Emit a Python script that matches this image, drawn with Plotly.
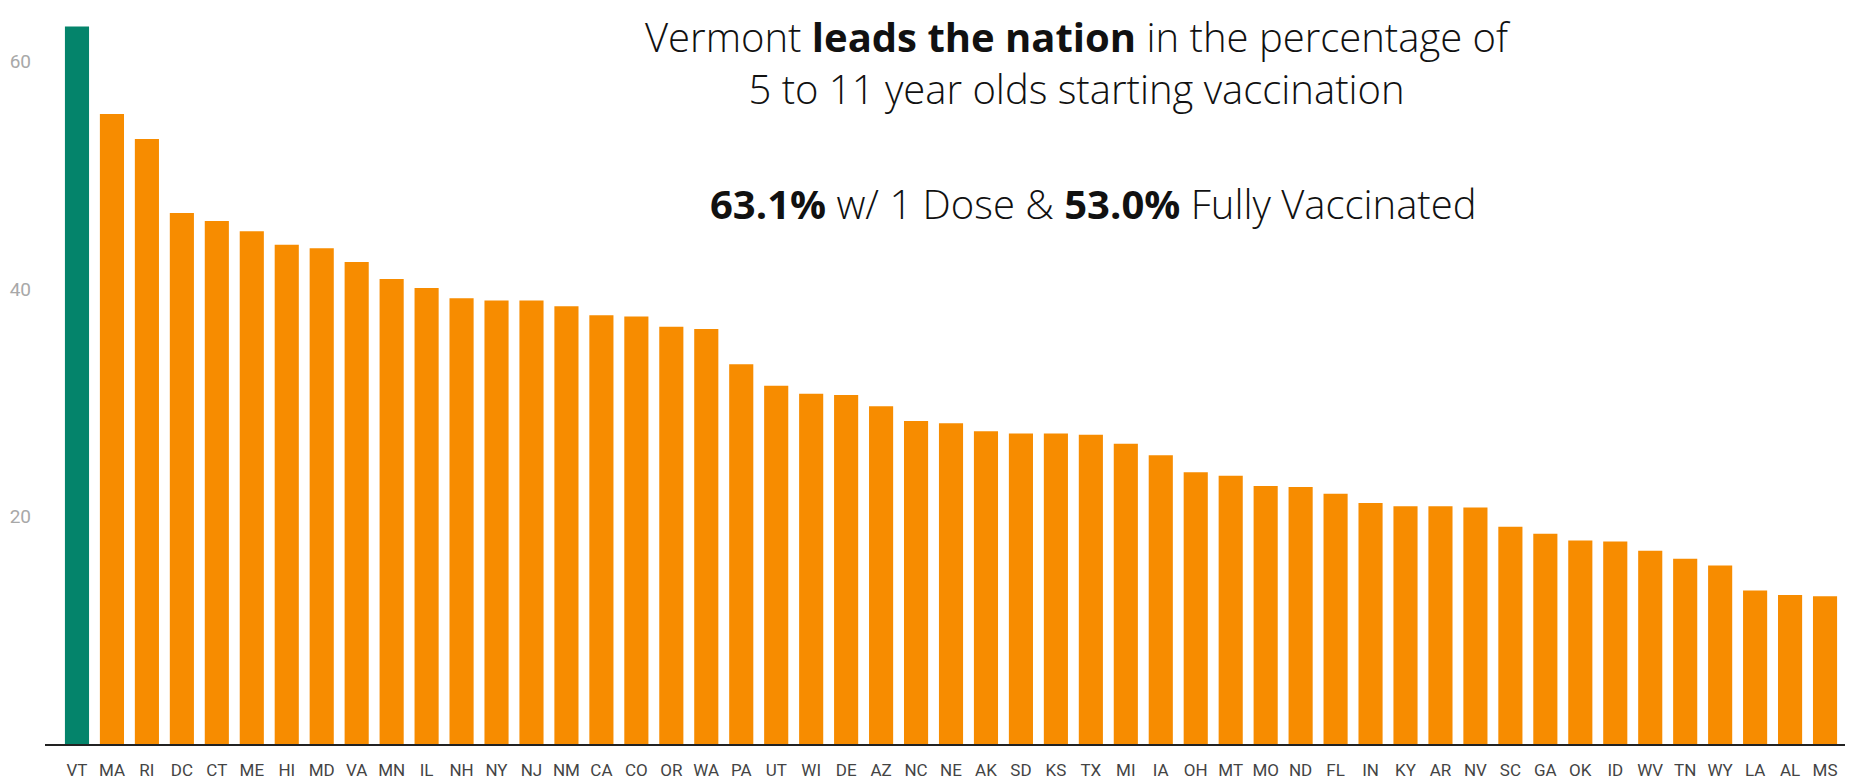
import plotly.graph_objects as go

states = ["VT","MA","RI","DC","CT","ME","HI","MD","VA","MN","IL","NH","NY","NJ","NM","CA","CO","OR","WA","PA",
          "UT","WI","DE","AZ","NC","NE","AK","SD","KS","TX","MI","IA","OH","MT","MO","ND","FL","IN","KY","AR",
          "NV","SC","GA","OK","ID","WV","TN","WY","LA","AL","MS"]
pct_one_dose = [63.1,55.4,53.2,46.7,46.0,45.1,43.9,43.6,42.4,40.9,40.1,39.2,39.0,39.0,38.5,37.7,37.6,36.7,36.5,33.4,
                31.5,30.8,30.7,29.7,28.4,28.2,27.5,27.3,27.3,27.2,26.4,25.4,23.9,23.6,22.7,22.6,22.0,21.2,20.9,20.9,
                20.8,19.1,18.5,17.9,17.8,17.0,16.3,15.7,13.5,13.1,13.0]
y_ticks = [20, 40, 60]

GREEN = "#04846B"
ORANGE = "#F78C00"
colors = [GREEN if s == "VT" else ORANGE for s in states]

# page body has an 8px margin, so the figure is drawn at (8, 8)
OFF = 8
W, H = 1853 - OFF, 782 - OFF
L, R, T, B = 45 - OFF, 0, 0, 38

fig = go.Figure(go.Bar(x=states, y=pct_one_dose, marker=dict(color=colors, line=dict(width=0)),
                       hoverinfo="x+y"))

fig.update_layout(
    width=W, height=H,
    margin=dict(l=L, r=R, t=T, b=B, pad=0, autoexpand=False),
    paper_bgcolor="white", plot_bgcolor="white",
    bargap=0.31,
    showlegend=False,
    xaxis=dict(type="category", range=[-0.915, 50.8], showgrid=False, zeroline=False,
               showline=True, linecolor="#222", linewidth=2, ticks="", automargin=False,
               tickfont=dict(family="Roboto", size=17, color="#444"),
               ticklabelstandoff=10, tickangle=0),
    yaxis=dict(range=[0, 64.73], tickvals=y_ticks, showgrid=False, zeroline=False, showline=False,
               ticks="", automargin=False, tickfont=dict(family="Roboto", size=19, color="#a8a8a8"),
               ticklabelstandoff=13),
)

def px_to_paper_x(px):
    return (px - OFF - L) / (W - L - R)

def px_to_paper_y(py):
    return 1 - (py - OFF - T) / (H - T - B)

title_font = dict(family="Open Sans", size=40, color="#111", weight=300)
fig.add_annotation(text="Vermont <b>leads the nation</b> in the percentage of<br>5 to 11 year olds starting vaccination",
                   x=px_to_paper_x(1078), y=px_to_paper_y(62), xref="paper", yref="paper",
                   showarrow=False, font=title_font, xanchor="center", yanchor="middle",
                   align="center", borderpad=0)
fig.add_annotation(text="<b>63.1%</b> w/ 1 Dose &amp; <b>53.0%</b> Fully Vaccinated",
                   x=px_to_paper_x(1093), y=px_to_paper_y(203), xref="paper", yref="paper",
                   showarrow=False, font=title_font, xanchor="center", yanchor="middle", borderpad=0)

fig.write_html("out.html")
